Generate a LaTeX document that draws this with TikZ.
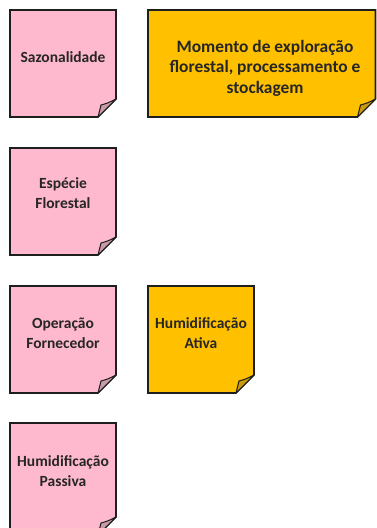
\documentclass[tikz,border=0pt]{standalone}
\usepackage{fontspec}
\setmainfont{Carlito}
\usetikzlibrary{backgrounds,calc}
\definecolor{notepink}{HTML}{FFB9CE}
\definecolor{notepinkflap}{HTML}{C99AA8}
\definecolor{noteorange}{HTML}{FFC000}
\definecolor{noteorangeflap}{HTML}{C79A10}
\definecolor{noteline}{HTML}{1E1E1E}
\definecolor{notetext}{HTML}{262626}
\tikzset{
  notetxt/.style={inner sep=0pt, align=center, text=notetext, font=\bfseries\fontsize{15.5}{20}\selectfont},
  bignotetxt/.style={notetxt, font=\bfseries\fontsize{17.4}{20.5}\selectfont},
  noteedge/.style={draw=noteline, line width=1.6pt, line join=miter},
  flapedge/.style={draw=noteline, line width=1pt, line join=round},
}
% \mynote{name}{left}{top}{right}{bottom}{fill}{flap}
\newcommand{\mynote}[7]{%
  \coordinate (#1nw) at (#2pt,-#3pt);
  \coordinate (#1se) at (#4pt,-#5pt);
  \filldraw[noteedge, fill=#6] (#2pt,-#3pt) -- (#4pt,-#3pt) -- (#4pt,{-#5pt+18pt}) -- ({#4pt-18pt},-#5pt) -- (#2pt,-#5pt) -- cycle;
  \filldraw[flapedge, fill=#7] ({#4pt-18pt},-#5pt) .. controls ({#4pt-17pt},{-#5pt+6pt}) .. ({#4pt-15pt},{-#5pt+12pt}) .. controls ({#4pt-8pt},{-#5pt+14pt}) .. (#4pt,{-#5pt+18pt}) -- cycle;
}
\begin{document}
\begin{tikzpicture}[x=1pt,y=1pt]
\useasboundingbox (0,0) rectangle (377,-528);
\begin{scope}
\clip (0,0) rectangle (377,-528);
\mynote{s}{10}{10}{116}{117}{notepink}{notepinkflap}
\mynote{m}{148}{10}{375.5}{117}{noteorange}{noteorangeflap}
\mynote{e}{10}{148}{116}{255}{notepink}{notepinkflap}
\mynote{o}{10}{286}{116}{393}{notepink}{notepinkflap}
\mynote{ha}{148}{286}{254}{393}{noteorange}{noteorangeflap}
\mynote{hp}{10}{423}{116}{535}{notepink}{notepinkflap}
\end{scope}
\node[notetxt] (ts) at (63,-57) {Sazonalidade};
\node[bignotetxt] (tm) at (265,-68) {Momento de exploração\\florestal, processamento e\\stockagem};
\node[notetxt] (te) at (63,-193) {Espécie\\Florestal};
\node[notetxt] (to) at (63,-333) {Operação\\Fornecedor};
\node[notetxt] (tha) at (201,-333) {Humidificação\\Ativa};
\node[notetxt] (thp) at (63,-471) {Humidificação\\Passiva};
\end{tikzpicture}
\end{document}
